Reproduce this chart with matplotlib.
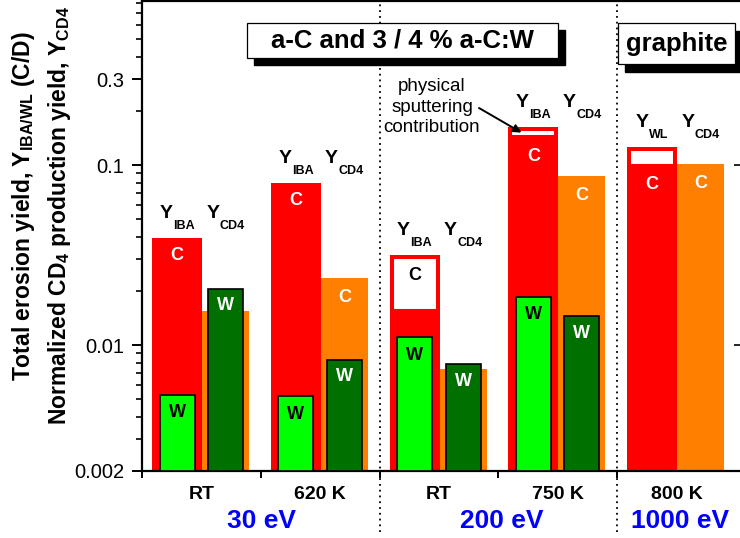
import numpy as np
import matplotlib
matplotlib.use("Agg")
import matplotlib.pyplot as plt
from matplotlib.patches import Rectangle
from matplotlib.ticker import LogLocator, NullLocator, NullFormatter, FixedLocator

plt.rcParams['font.family'] = ['Liberation Sans', 'DejaVu Sans']
plt.rcParams['mathtext.fontset'] = 'custom'
plt.rcParams['mathtext.rm'] = 'Liberation Sans:bold'
plt.rcParams['mathtext.bf'] = 'Liberation Sans:bold'
plt.rcParams['mathtext.it'] = 'Liberation Sans:bold'

# ---- data ---------------------------------------------------------------
temperatures = ["RT", "620 K", "RT", "750 K", "800 K"]
energies = ["30 eV", "200 eV", "1000 eV"]
energy_pos = [1.01, 3.03, 4.53]
total_kind = ["IBA", "IBA", "IBA", "IBA", "WL"]

# total carbon erosion yield (incl. physical sputtering) and chemical part
y_total = [0.0393, 0.0794, 0.0316, 0.163, 0.1264]
y_chem = [0.0393, 0.0794, 0.0151, 0.1395, 0.097]
# normalized CD4 production yield (carbon)
y_cd4 = [0.0155, 0.0235, 0.00736, 0.0869, 0.1009]
# tungsten-containing films
w_iba = [0.00532, 0.00519, 0.0111, 0.0186, np.nan]
w_cd4 = [0.0206, 0.0083, 0.00781, 0.0145, np.nan]

y_ticks = [0.002, 0.01, 0.1, 0.3]
y_ticklabels = ["0.002", "0.01", "0.1", "0.3"]

# ---- style --------------------------------------------------------------
RED = "#ff0000"
ORANGE = "#ff8000"
LGREEN = "#00ff00"
DGREEN = "#007000"
BLUE = "#0000ff"
YMIN, YMAX = 0.002, 0.816

W, H = 740, 538
fig = plt.figure(figsize=(W / 100, H / 100), dpi=100)
ax_l, ax_r, ax_t, ax_b = 142, 742, 1, 471
ax = fig.add_axes([ax_l / W, 1 - ax_b / H, (ax_r - ax_l) / W, (ax_b - ax_t) / H])
ax.set_yscale("log")
ax.set_ylim(YMIN, YMAX)
group_px = 118.75
ax.set_xlim(0, (ax_r - ax_l) / group_px)

x = np.arange(len(temperatures))
red_x0, red_x1 = 0.085, 0.507
or_x1 = 0.903
red_c = x + (red_x0 + red_x1) / 2
red_w = red_x1 - red_x0
or_c = x + (red_x1 + or_x1) / 2
or_w = or_x1 - red_x1
lg_c = x + 0.295
dg_c = x + 0.705
g_w = 0.295

def heights(vals):
    return [v - YMIN for v in vals]

red_bars = ax.bar(red_c, heights(y_total), width=red_w, bottom=YMIN,
                  color=RED, linewidth=0, zorder=2)
or_bars = ax.bar(or_c, heights(y_cd4), width=or_w, bottom=YMIN,
                 color=ORANGE, linewidth=0, zorder=2)

# physical sputtering contribution: white box inside the red bar
for i in range(len(x)):
    if y_total[i] > y_chem[i]:
        box = ax.bar(red_c[i], y_total[i] - y_chem[i], width=red_w,
                     bottom=y_chem[i], facecolor="white", edgecolor=RED,
                     linewidth=5.8, zorder=3)[0]
        box.set_clip_path(red_bars[i])

lg_bars = ax.bar(lg_c, heights(w_iba), width=g_w, bottom=YMIN, color=LGREEN,
                 edgecolor="black", linewidth=1.2, zorder=4)
dg_bars = ax.bar(dg_c, heights(w_cd4), width=g_w, bottom=YMIN, color=DGREEN,
                 edgecolor="black", linewidth=1.2, zorder=4)

lbl = dict(fontsize=13, fontweight="bold", ha="center", va="center",
           textcoords="offset pixels", zorder=6)

# element labels inside bars
for i in range(len(x)):
    if y_total[i] / y_chem[i] > 1.5:
        ax.annotate("C", (red_c[i], y_total[i]), xytext=(0, -20),
                    color="black", **lbl)
    else:
        ax.annotate("C", (red_c[i], y_chem[i]), xytext=(0, -17),
                    color="white", **lbl)
    if np.isnan(w_cd4[i]) or y_cd4[i] > 1.5 * w_cd4[i]:
        ax.annotate("C", (or_c[i], y_cd4[i]), xytext=(0, -19),
                    color="white", **lbl)
    if not np.isnan(w_iba[i]):
        ax.annotate("W", (lg_c[i], w_iba[i]), xytext=(0, -18),
                    color="black", **lbl)
    if not np.isnan(w_cd4[i]):
        ax.annotate("W", (dg_c[i], w_cd4[i]), xytext=(0, -17),
                    color="white", **lbl)

# yield symbols above each pair of bars: "Y" with a small lowered subscript
renderer = fig.canvas.get_renderer()

def yield_symbol(xc, yv, sub):
    main = ax.annotate("Y", (xc, yv), xytext=(0, 20),
                       textcoords="offset pixels", ha="left", va="baseline",
                       fontsize=14, fontweight="bold", zorder=6)
    low = ax.annotate(sub, (1, 0), xycoords=main, xytext=(0.5, -7),
                      textcoords="offset pixels", ha="left", va="baseline",
                      fontsize=9, fontweight="bold", zorder=6)
    w_main = main.get_window_extent(renderer).width
    w_low = low.get_window_extent(renderer).width
    main.set_position((-(w_main + w_low + 0.5) / 2, 20))

for i in range(len(x)):
    yield_symbol(red_c[i], y_total[i], total_kind[i])
    yield_symbol(or_c[i], y_total[i], "CD4")

# separators between ion energies
for xb in (2, 4):
    ax.axvline(xb, ymin=-0.13, ymax=1, clip_on=False, color="black",
               lw=1.3, ls=(0, (1, 2.2)), zorder=5)

# axes and ticks
for s in ax.spines.values():
    s.set_linewidth(1.6)
ax.set_yticks(y_ticks)
ax.set_yticklabels(y_ticklabels, fontsize=14.5)
ax.yaxis.set_minor_locator(LogLocator(subs=np.arange(2, 10)))
ax.yaxis.set_minor_formatter(NullFormatter())
ax.tick_params(axis="y", which="major", direction="out", length=7.5,
               width=1.4, pad=5.5)
ax.tick_params(axis="y", which="minor", direction="out", length=4.5, width=1.2)

ax.set_xticks(x)
ax.set_xticklabels([])
ax.xaxis.set_minor_locator(FixedLocator(x + 0.5))
ax.set_xticklabels(temperatures, minor=True, fontsize=14, fontweight="bold")
ax.tick_params(axis="x", which="major", direction="out", length=5, width=1.4)
ax.tick_params(axis="x", which="minor", length=0, pad=11)

sec = ax.secondary_yaxis("right")
sec.set_yticks([0.01, 0.1])
sec.yaxis.set_minor_locator(NullLocator())
sec.tick_params(direction="in", length=6, width=1.2, labelright=False)

for e, p in zip(energies, energy_pos):
    ax.text(p, (ax_b - 521) / (ax_b - ax_t), e, transform=ax.get_xaxis_transform(),
            ha="center", va="center", fontsize=19, fontweight="bold",
            color=BLUE)

# axis titles
fig.text(24 / W, 1 - 206 / H,
         r"Total erosion yield, $\mathbf{Y_{IBA/WL}}$ (C/D)",
         rotation=90, ha="center", va="center", fontsize=16.5,
         fontweight="bold")
fig.text(60 / W, 1 - 216 / H,
         r"Normalized CD$\mathbf{_4}$ production yield, $\mathbf{Y_{CD4}}$",
         rotation=90, ha="center", va="center", fontsize=16.5,
         fontweight="bold")

# framed titles with drop shadow
def shadow_box(x0, y0, x1, y1, dx, dy, text):
    fig.patches.append(Rectangle(((x0 + dx) / W, 1 - (y1 + dy) / H),
                                 (x1 - x0) / W, (y1 - y0) / H,
                                 transform=fig.transFigure, color="black",
                                 zorder=7))
    fig.patches.append(Rectangle((x0 / W, 1 - y1 / H), (x1 - x0) / W,
                                 (y1 - y0) / H, transform=fig.transFigure,
                                 facecolor="white", edgecolor="black",
                                 lw=0.9, zorder=8))
    fig.text((x0 + x1) / 2 / W, 1 - (y0 + y1) / 2 / H, text, ha="center",
             va="center", fontsize=18.5, fontweight="bold", zorder=9)

shadow_box(247, 23, 558, 58, 7, 7, "a-C and 3 / 4 % a-C:W")
shadow_box(618, 23, 735, 64, 7, 8, "graphite")

# note on the physical sputtering part
ax.text((432 - ax_l) / (ax_r - ax_l), (ax_b - 107) / (ax_b - ax_t),
        "physical\nsputtering\ncontribution", transform=ax.transAxes,
        ha="center", va="center", fontsize=13.5, linespacing=1.3, zorder=6)
ax.annotate("", xy=(red_c[3] - 0.1, y_total[3] * 0.93),
            xytext=((479 - ax_l) / (ax_r - ax_l), (ax_b - 108) / (ax_b - ax_t)),
            textcoords="axes fraction",
            arrowprops=dict(arrowstyle="-|>", color="black", lw=1.4,
                            mutation_scale=12, shrinkA=0, shrinkB=0),
            zorder=6)

fig.savefig("out.png", dpi=100)
